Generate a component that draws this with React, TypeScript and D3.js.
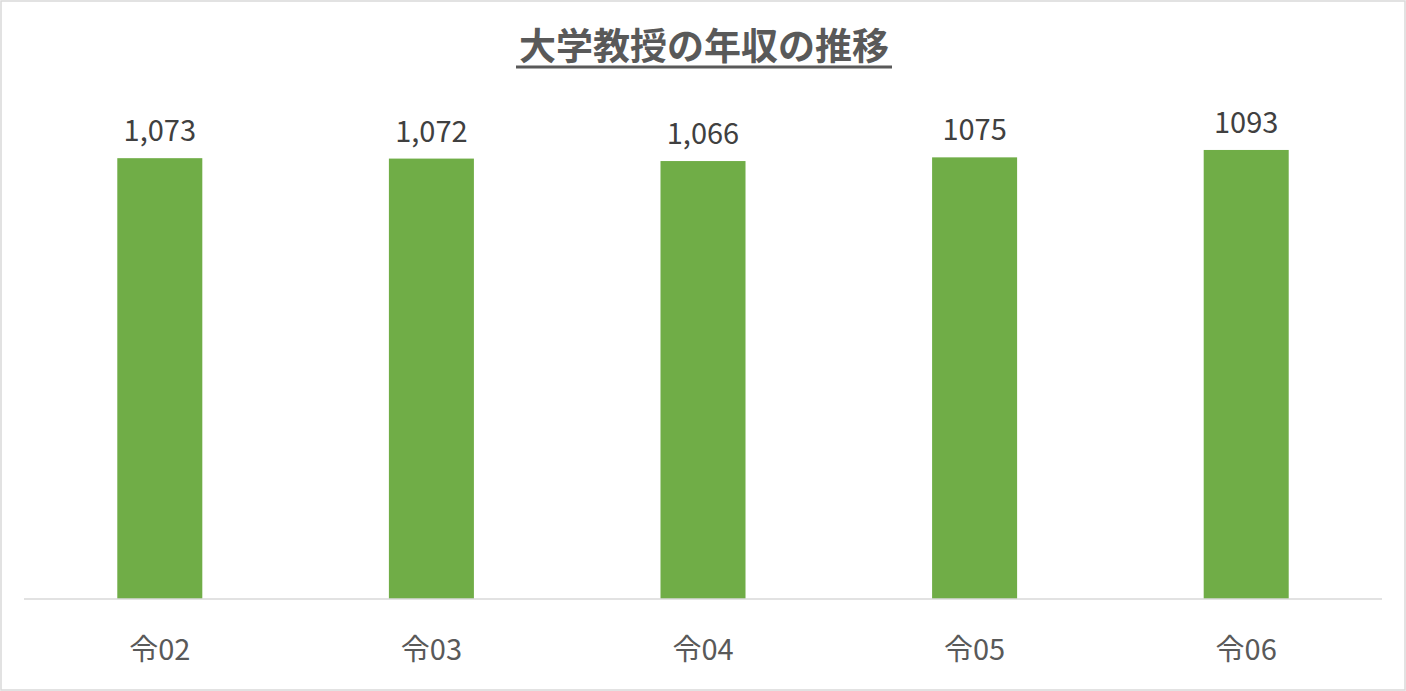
import React, { useEffect } from "react";
import * as d3 from "d3";

const categories = ["令02", "令03", "令04", "令05", "令06"];
const values = [1073, 1072, 1066, 1075, 1093];
const valueLabels = ["1,073", "1,072", "1,066", "1075", "1093"];
const title = "大学教授の年収の推移";

const width = 1406;
const height = 691;
const margin = { top: 106, right: 24, bottom: 92, left: 24 };

const App: React.FC = () => {
  useEffect(() => {
    document.body.style.margin = "0";
  }, []);

  const x = d3
    .scaleBand()
    .domain(categories)
    .range([margin.left, width - margin.right])
    .paddingInner(0.687)
    .paddingOuter(0.3435);

  const y = d3
    .scaleLinear()
    .domain([0, 1200])
    .range([height - margin.bottom, margin.top]);

  const font = "'Noto Sans CJK JP', 'Noto Sans', sans-serif";

  return (
    <svg width={width} height={height} style={{ display: "block" }}>
      <rect
        x={1}
        y={1}
        width={width - 2}
        height={height - 2}
        fill="#fff"
        stroke="#d9d9d9"
        strokeWidth={1.5}
      />
      <text
        x={704}
        y={60}
        textAnchor="middle"
        fontFamily={font}
        fontWeight="bold"
        fontSize={37}
        fill="#595959"
      >
        {title}
      </text>
      <line x1={516} x2={892} y1={67} y2={67} stroke="#595959" strokeWidth={3} />
      {values.map((v, i) => (
        <g key={categories[i]}>
          <rect
            x={x(categories[i])}
            y={y(v)}
            width={x.bandwidth()}
            height={y(0) - y(v)}
            fill="#70ad47"
          />
          <text
            x={x(categories[i])! + x.bandwidth() / 2}
            y={y(v) - 17}
            textAnchor="middle"
            fontFamily={font}
            fontSize={29}
            fill="#404040"
          >
            {valueLabels[i]}
          </text>
          <text
            x={x(categories[i])! + x.bandwidth() / 2}
            y={660}
            textAnchor="middle"
            fontFamily={font}
            fontSize={29}
            fill="#595959"
          >
            {categories[i]}
          </text>
        </g>
      ))}
      <line
        x1={margin.left}
        x2={width - margin.right}
        y1={y(0)}
        y2={y(0)}
        stroke="#d9d9d9"
        strokeWidth={1.5}
      />
    </svg>
  );
};

export default App;
